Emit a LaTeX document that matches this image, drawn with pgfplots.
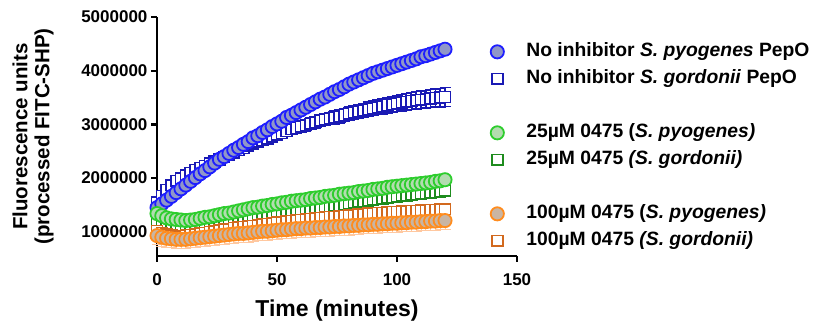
\documentclass[border=0pt]{standalone}
\usepackage{fontspec}
\setmainfont{Liberation Sans}
\usepackage{pgfplots}
\pgfplotsset{compat=1.18}
\usepackage{pgfplotstable}

\definecolor{bluE}{HTML}{1E1EFF}
\definecolor{bluF}{HTML}{9097C8}
\definecolor{bluS}{HTML}{1A1AB4}
\definecolor{bluH}{HTML}{C4C8FF}
\definecolor{grnE}{HTML}{2DCD2D}
\definecolor{grnF}{HTML}{B3DCB0}
\definecolor{grnS}{HTML}{1E8C1E}
\definecolor{orgE}{HTML}{FF8C1E}
\definecolor{orgF}{HTML}{C9B5A3}
\definecolor{orgS}{HTML}{D2691E}
\definecolor{orgH}{HTML}{FFC8A0}

\pgfplotstableread{
t A B Berr
0 1450000 1550000 30000
2 1520000 1670000 32000
4 1590000 1780000 35000
6 1660000 1870000 37000
8 1730000 1950000 40000
10 1800000 2000000 42000
12 1870000 2050000 44000
14 1940000 2100000 47000
16 2010000 2150000 49000
18 2080000 2190000 52000
20 2140000 2230000 54000
22 2210000 2270000 56000
24 2280000 2310000 59000
26 2350000 2350000 61000
28 2400000 2390000 64000
30 2460000 2435000 66000
32 2520000 2480000 68000
34 2570000 2520000 71000
36 2630000 2560000 73000
38 2680000 2600000 76000
40 2750000 2640000 78000
42 2790000 2675000 80000
44 2850000 2710000 83000
46 2900000 2740000 85000
48 2960000 2770000 88000
50 3010000 2805000 90000
52 3060000 2840000 92000
54 3130000 2875000 95000
56 3170000 2910000 97000
58 3220000 2935000 100000
60 3270000 2960000 102000
62 3320000 2985000 104000
64 3370000 3010000 107000
66 3420000 3040000 109000
68 3470000 3070000 112000
70 3510000 3090000 114000
72 3560000 3110000 116000
74 3610000 3130000 119000
76 3650000 3150000 121000
78 3700000 3175000 124000
80 3750000 3200000 126000
82 3790000 3220000 128000
84 3830000 3240000 131000
86 3870000 3260000 133000
88 3910000 3280000 136000
90 3950000 3300000 138000
92 3980000 3320000 140000
94 4010000 3340000 143000
96 4040000 3360000 145000
98 4070000 3375000 148000
100 4100000 3390000 150000
102 4130000 3405000 152000
104 4160000 3420000 155000
106 4190000 3435000 157000
108 4220000 3450000 160000
110 4260000 3460000 162000
112 4280000 3470000 164000
114 4310000 3480000 167000
116 4340000 3490000 169000
118 4370000 3500000 172000
120 4400000 3510000 174000
}\blue

\pgfplotstableread{
t C D
0 1340000 1200000
2 1300000 1150000
4 1260000 1120000
6 1240000 1100000
8 1230000 1090000
10 1220000 1080000
12 1210000 1080000
14 1220000 1090000
16 1230000 1100000
18 1250000 1110000
20 1270000 1130000
22 1280000 1140000
24 1300000 1160000
26 1320000 1170000
28 1340000 1190000
30 1350000 1200000
32 1370000 1220000
34 1390000 1230000
36 1410000 1250000
38 1430000 1260000
40 1450000 1270000
42 1460000 1290000
44 1480000 1300000
46 1490000 1320000
48 1510000 1330000
50 1520000 1340000
52 1540000 1360000
54 1550000 1370000
56 1570000 1380000
58 1580000 1400000
60 1590000 1410000
62 1600000 1420000
64 1620000 1430000
66 1630000 1440000
68 1640000 1450000
70 1660000 1470000
72 1670000 1480000
74 1680000 1490000
76 1700000 1500000
78 1710000 1520000
80 1720000 1530000
82 1730000 1540000
84 1750000 1560000
86 1760000 1570000
88 1770000 1580000
90 1790000 1600000
92 1800000 1610000
94 1810000 1620000
96 1830000 1640000
98 1840000 1650000
100 1850000 1660000
102 1860000 1670000
104 1870000 1680000
106 1880000 1690000
108 1890000 1700000
110 1900000 1710000
112 1910000 1720000
114 1920000 1730000
116 1940000 1740000
118 1950000 1750000
120 1970000 1770000
}\green

\pgfplotstableread{
t E F
0 1020000 930000
2 980000 900000
4 950000 880000
6 930000 870000
8 920000 860000
10 920000 860000
12 930000 860000
14 940000 870000
16 950000 880000
18 970000 890000
20 980000 900000
22 1000000 910000
24 1010000 920000
26 1030000 930000
28 1040000 940000
30 1050000 950000
32 1070000 960000
34 1080000 970000
36 1090000 970000
38 1100000 980000
40 1110000 990000
42 1120000 1000000
44 1140000 1010000
46 1150000 1010000
48 1160000 1020000
50 1170000 1030000
52 1180000 1040000
54 1190000 1040000
56 1200000 1050000
58 1210000 1060000
60 1220000 1060000
62 1230000 1070000
64 1240000 1070000
66 1250000 1080000
68 1260000 1080000
70 1270000 1090000
72 1280000 1090000
74 1280000 1100000
76 1290000 1100000
78 1300000 1110000
80 1310000 1110000
82 1310000 1120000
84 1320000 1120000
86 1330000 1130000
88 1340000 1130000
90 1340000 1140000
92 1350000 1140000
94 1350000 1150000
96 1360000 1150000
98 1370000 1160000
100 1370000 1160000
102 1380000 1170000
104 1380000 1170000
106 1390000 1180000
108 1390000 1180000
110 1400000 1190000
112 1400000 1190000
114 1410000 1200000
116 1410000 1200000
118 1420000 1210000
120 1420000 1210000
}\orange

\begin{document}
\begin{tikzpicture}
\useasboundingbox (0,0) rectangle (816pt,326pt);
\begin{axis}[
  at={(157pt,70pt)}, anchor=south west,
  scale only axis, width=360pt, height=239pt,
  xmin=0, xmax=150, ymin=550000, ymax=5000000,
  clip=false,
  axis x line=bottom, axis y line=left,
  axis line style={-, line width=2.4pt, black},
  xtick={0,50,100,150}, xticklabels={0,50,100,150},
  ytick={1000000,2000000,3000000,4000000,5000000},
  yticklabels={1000000,2000000,3000000,4000000,5000000},
  scaled y ticks=false,
  tick align=outside, major tick length=6pt,
  tick style={line width=2.2pt, black},
  ticklabel style={font=\bfseries\fontsize{17}{17}\selectfont},
  xticklabel style={yshift=-8pt},
  xlabel={Time (minutes)},
  xlabel style={at={(axis description cs:0.5,-0.2552)}, anchor=base, font=\bfseries\fontsize{23}{23}\selectfont},
  ylabel={Fluorescence units\\(processed FITC-SHP)},
  ylabel style={at={(axis description cs:-0.344,0.5)}, anchor=center, rotate=0, align=center, font=\bfseries\fontsize{20.5}{22}\selectfont},
  legend cell align=left,
  legend image code/.code={\draw[#1] plot coordinates {(0pt,0pt)};},
  legend style={at={(axis description cs:0.9264,0.899)}, anchor=north west, draw=none, fill=none, inner sep=0pt,
    font=\bfseries\fontsize{19.3}{19.3}\selectfont, column sep=20.5pt, row sep=6pt,
    nodes={inner sep=2pt, text height=13pt, text depth=4pt}},
]
% blue squares with error bars
\addplot[forget plot, only marks, mark=square*, mark size=5.4pt,
  mark options={draw=bluS, fill=white, line width=1.6pt},
  error bars/.cd, y dir=both, y explicit, error mark=-, error bar style={line width=1.5pt, bluS},
  error mark options={mark size=5.5pt, line width=1.5pt, bluS, rotate=90}]
  table[x=t, y=B, y error=Berr] {\blue};
% green squares
\addplot[forget plot, only marks, mark=square*, mark size=5.4pt,
  mark options={draw=grnS, fill=white, line width=1.6pt}]
  table[x=t, y=D] {\green};
% orange faint error bars (circles)
\addplot[forget plot, only marks, mark=none,
  error bars/.cd, y dir=minus, y fixed=170000, error mark=-, error bar style={line width=1pt, orgH},
  error mark options={mark size=5.5pt, line width=1pt, orgH, rotate=90}]
  table[x=t, y=F] {\orange};
% orange squares
\addplot[forget plot, only marks, mark=square*, mark size=5.4pt,
  mark options={draw=orgS, fill=white, line width=1.6pt}]
  table[x=t, y=E] {\orange};
% blue circles halo
\addplot[forget plot, only marks, mark=none,
  error bars/.cd, y dir=both, y fixed=80000, error mark=-, error bar style={line width=1pt, bluH},
  error mark options={mark size=6pt, line width=1pt, bluH, rotate=90}]
  table[x=t, y=A] {\blue};
% blue circles
\addplot[forget plot, only marks, mark=*, mark size=6.6pt,
  mark options={draw=bluE, fill=bluF, line width=1.8pt}]
  table[x=t, y=A] {\blue};
% green circles
\addplot[forget plot, only marks, mark=*, mark size=6.6pt,
  mark options={draw=grnE, fill=grnF, line width=1.8pt}]
  table[x=t, y=C] {\green};
% orange circles
\addplot[forget plot, only marks, mark=*, mark size=6.6pt,
  mark options={draw=orgE, fill=orgF, line width=1.8pt}]
  table[x=t, y=F] {\orange};

\addlegendimage{only marks, mark=*, mark size=6.6pt, mark options={draw=bluE, fill=bluF, line width=1.8pt}}
\addlegendentry{No inhibitor \textit{S. pyogenes} PepO}
\addlegendimage{only marks, mark=square*, mark size=5.4pt, mark options={draw=bluS, fill=white, line width=1.6pt}}
\addlegendentry{No inhibitor \textit{S. gordonii} PepO}
\addlegendimage{empty legend}
\addlegendentry{}
\addlegendimage{only marks, mark=*, mark size=6.6pt, mark options={draw=grnE, fill=grnF, line width=1.8pt}}
\addlegendentry{25µM 0475 (\textit{S. pyogenes)}}
\addlegendimage{only marks, mark=square*, mark size=5.4pt, mark options={draw=grnS, fill=white, line width=1.6pt}}
\addlegendentry{25µM 0475 \textit{(S. gordonii)}}
\addlegendimage{empty legend}
\addlegendentry{}
\addlegendimage{only marks, mark=*, mark size=6.6pt, mark options={draw=orgE, fill=orgF, line width=1.8pt}}
\addlegendentry{100µM 0475 (\textit{S. pyogenes)}}
\addlegendimage{only marks, mark=square*, mark size=5.4pt, mark options={draw=orgS, fill=white, line width=1.6pt}}
\addlegendentry{100µM 0475 \textit{(S. gordonii)}}
\end{axis}
\end{tikzpicture}
\end{document}
